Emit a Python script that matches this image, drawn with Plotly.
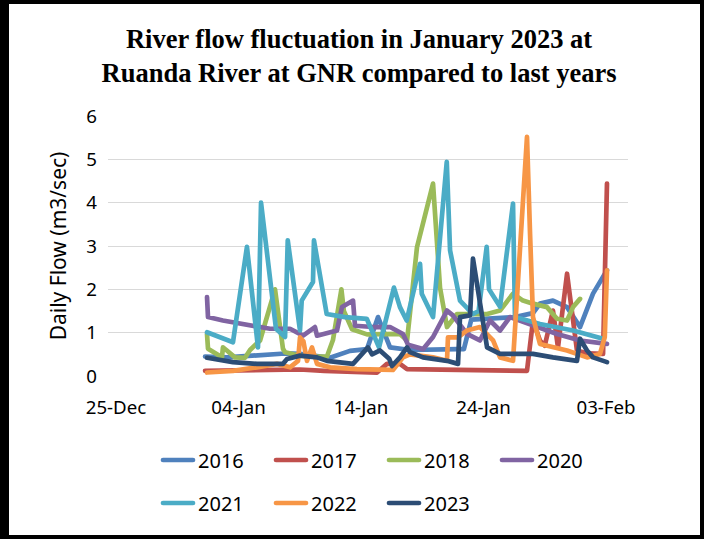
import pandas as pd
import plotly.graph_objects as go

# ---- data: (day of January 2023, fractional) and daily flow (m3/sec) ----
years = ["2016", "2017", "2018", "2020", "2021", "2022", "2023"]
colors = ["#4F81BD", "#C0504D", "#9BBB59", "#8064A2", "#4BACC6", "#F79646", "#2C4D75"]

day_2016 = [1.27, 3.04, 7.8, 9.02, 11.47, 13.1, 14.49, 15.39, 16.37, 17.18, 18.0, 21.84, 22.4, 23.0,
            25.35, 26.57, 28.04, 28.61, 29.67, 30.82, 31.88, 32.94, 34.08]
flow_2016 = [0.45, 0.43, 0.52, 0.51, 0.42, 0.58, 0.62, 1.36, 0.66, 0.62, 0.6, 0.62, 0.62, 1.3,
             1.35, 1.36, 1.45, 1.67, 1.74, 1.59, 1.13, 1.9, 2.44]

day_2017 = [1.27, 4.0, 7.0, 9.0, 11.0, 13.0, 15.31, 16.12, 17.18, 17.76, 20.0, 23.0, 25.0, 27.55,
            28.04, 28.61, 29.0, 29.67, 30.08, 30.82, 31.63, 32.5, 33.76, 34.08]
flow_2017 = [0.12, 0.13, 0.15, 0.15, 0.12, 0.1, 0.08, 0.28, 0.28, 0.16, 0.15, 0.13, 0.12, 0.12,
             1.28, 0.82, 0.7, 1.51, 0.66, 2.36, 0.59, 0.52, 0.51, 4.44]

day_2018 = [1.43, 1.51, 2.65, 2.73, 3.0, 3.71, 4.53, 4.94, 5.76, 6.98, 7.63, 7.8, 8.5, 9.5, 10.5,
            11.22, 11.71, 12.4, 12.6, 13.27, 14.49, 16.37, 17.18, 17.76, 18.57, 19.88, 20.45,
            21.02, 21.84, 24.29, 25.35, 26.41, 27.22, 28.04, 29.18, 30.0, 30.82, 31.31, 31.88]
flow_2018 = [0.97, 0.63, 0.43, 0.66, 0.6, 0.43, 0.42, 0.6, 0.82, 2.0, 0.63, 0.55, 0.5, 0.45, 0.45,
             0.45, 0.83, 2.0, 1.5, 1.08, 0.96, 0.96, 0.97, 0.82, 2.97, 4.44, 2.04,
             1.13, 1.43, 1.43, 1.51, 1.9, 1.74, 1.67, 1.59, 1.32, 1.28, 1.59, 1.78]

day_2020 = [1.43, 1.51, 2.73, 4.94, 6.57, 8.2, 9.27, 10.24, 10.41, 12.04, 12.45, 13.35, 13.51, 14.98,
            16.37, 17.43, 17.84, 19.06, 19.88, 21.02, 21.5, 22.65, 23.71, 24.53, 25.35, 26.16,
            27.8, 30.0, 31.88, 34.08]
flow_2020 = [1.82, 1.36, 1.28, 1.16, 1.09, 1.09, 0.93, 1.13, 0.93, 1.05, 1.59, 1.74, 1.16, 1.13,
             1.13, 0.97, 0.72, 0.62, 0.9, 1.51, 1.4, 0.97, 0.82, 1.28, 1.05, 1.36,
             1.2, 0.97, 0.82, 0.74]

day_2021 = [1.43, 3.55, 4.69, 5.59, 5.84, 7.06, 7.8, 8.02, 9.02, 9.16, 10.08, 10.16, 11.2, 12.69,
            14.47, 15.47, 16.69, 17.02, 17.18, 17.73, 18.82, 18.96, 19.88, 21.0, 21.27, 22.08,
            23.14, 23.6, 24.26, 24.45, 25.18, 25.35, 26.41, 26.57, 28.61, 31.31, 33.76]
flow_2021 = [1.01, 0.78, 2.98, 0.66, 4.0, 1.09, 0.9, 3.13, 1.05, 1.74, 2.17, 3.13, 1.43, 1.36,
             1.32, 0.66, 2.04, 1.67, 1.59, 1.28, 2.59, 1.9, 1.36, 4.94, 2.9, 1.74,
             1.43, 1.5, 2.98, 2.0, 1.67, 1.6, 3.98, 1.36, 1.2, 1.05, 0.86]

day_2022 = [1.43, 3.55, 5.51, 7.14, 8.2, 8.86, 9.02, 9.3, 9.59, 10.0, 10.41, 11.47, 13.67, 15.31,
            16.61, 17.43, 18.0, 19.88, 21.02, 21.1, 21.92, 22.65, 23.71, 24.78, 25.35, 26.41,
            26.73, 27.55, 27.8, 28.04, 28.61, 30.82, 32.45, 33.51, 33.9, 34.08]
flow_2022 = [0.08, 0.12, 0.2, 0.28, 0.2, 0.35, 0.89, 0.8, 0.35, 0.66, 0.28, 0.2, 0.16, 0.14,
             0.14, 0.43, 0.5, 0.43, 0.35, 0.89, 0.89, 1.05, 1.13, 0.82, 0.43, 0.35,
             1.74, 5.52, 3.28, 1.36, 0.74, 0.59, 0.43, 0.51, 0.9, 2.44]

day_2023 = [1.43, 3.55, 5.51, 7.63, 7.96, 9.02, 10.41, 11.22, 13.35, 14.57, 14.9, 15.55, 16.3, 16.53,
            17.18, 17.76, 18.0, 19.06, 21.02, 21.92, 22.08, 22.9, 23.14, 23.71, 24.29, 25.35,
            28.04, 29.67, 31.63, 31.88, 32.45, 32.94, 34.08]
flow_2023 = [0.42, 0.32, 0.28, 0.28, 0.39, 0.47, 0.43, 0.35, 0.28, 0.66, 0.5, 0.59, 0.4, 0.23,
             0.43, 0.66, 0.55, 0.43, 0.35, 0.28, 1.36, 1.4, 2.71, 1.74, 0.66, 0.51,
             0.51, 0.43, 0.35, 0.86, 0.59, 0.43, 0.32]

days = [day_2016, day_2017, day_2018, day_2020, day_2021, day_2022, day_2023]
flows = [flow_2016, flow_2017, flow_2018, flow_2020, flow_2021, flow_2022, flow_2023]

y_ticks = [0, 1, 2, 3, 4, 5, 6]
title_text = "<b>River flow fluctuation in January 2023 at<br>Ruanda River at GNR compared to last years</b>"
y_title = "Daily Flow (m3/sec)"

base = pd.Timestamp("2023-01-01")


def to_dates(d):
    return [base + pd.Timedelta(days=v - 1) for v in d]


fig = go.Figure()
for i, (yr, d, f, c) in enumerate(zip(years, days, flows, colors)):
    fig.add_trace(go.Scatter(
        x=to_dates(d), y=f, mode="lines", name=yr,
        line=dict(color=c, width=4.7),
        legend="legend" if i < 4 else "legend2",
    ))

W, H = 704, 539
L, R, T, B = 108, 628, 116, 376

x_start = pd.Timestamp("2022-12-25") - pd.Timedelta(days=8 / 12.25)
x_end = pd.Timestamp("2023-02-03") + pd.Timedelta(days=22 / 12.25)

FONT = "Noto Sans"
tick_font = dict(family=FONT, size=18.7, color="#000000")
text_font = dict(family=FONT, size=20, color="#000000")
ytitle_font = dict(family=FONT, size=21, color="#000000")

legend_common = dict(
    orientation="h", xref="container", yref="container", xanchor="left", yanchor="middle",
    font=text_font, bgcolor="rgba(0,0,0,0)", entrywidth=68, entrywidthmode="pixels",
    itemclick=False, itemdoubleclick=False,
)


def px_x(p):
    return (p - L) / (R - L)


def px_y(p):
    return (B - p) / (B - T)


fig.update_layout(
    width=W, height=H,
    margin=dict(l=L, r=W - R, t=T, b=H - B, autoexpand=False),
    paper_bgcolor="white", plot_bgcolor="white",
    title=dict(text=title_text, x=0.51, xanchor="center", y=1 - 48 / H, yanchor="middle",
               yref="container",
               font=dict(family="Times New Roman, Liberation Serif, serif", size=26.5, color="#000000")),
    xaxis=dict(
        type="date", range=[x_start, x_end], tick0="2022-12-25", dtick=10 * 86400000,
        tickformat="%d-%b", showgrid=False, zeroline=False, showline=False, ticks="",
        tickfont=tick_font, ticklabelstandoff=18,
    ),
    yaxis=dict(
        range=[0, 6], tickvals=y_ticks, showgrid=True, gridcolor="#D9D9D9", gridwidth=1.3,
        zeroline=False, showline=False, ticks="", tickfont=tick_font, ticklabelstandoff=10,
        title=dict(text=y_title, font=ytitle_font, standoff=13),
    ),
    legend=dict(x=158 / W, y=1 - 460 / H, **legend_common),
    legend2=dict(x=158 / W, y=1 - 503 / H, **legend_common),
    showlegend=True,
    shapes=[
        dict(type="rect", xref="paper", yref="paper", x0=px_x(2), x1=px_x(702), y0=px_y(537), y1=px_y(2),
             line=dict(color="black", width=4), fillcolor="rgba(0,0,0,0)", layer="above"),
        dict(type="line", xref="paper", yref="paper", x0=px_x(6), x1=px_x(6), y0=px_y(537), y1=px_y(2),
             line=dict(color="black", width=6), layer="above"),
    ],
)

post = ("document.body.style.margin='0';document.body.style.overflow='hidden';"
        "var s=document.createElement('style');"
        "s.innerHTML='.js-line{stroke-linejoin:round !important;stroke-linecap:round !important;}';"
        "document.head.appendChild(s);")

fig.write_html("out.html", post_script=post, config={"displayModeBar": False})
